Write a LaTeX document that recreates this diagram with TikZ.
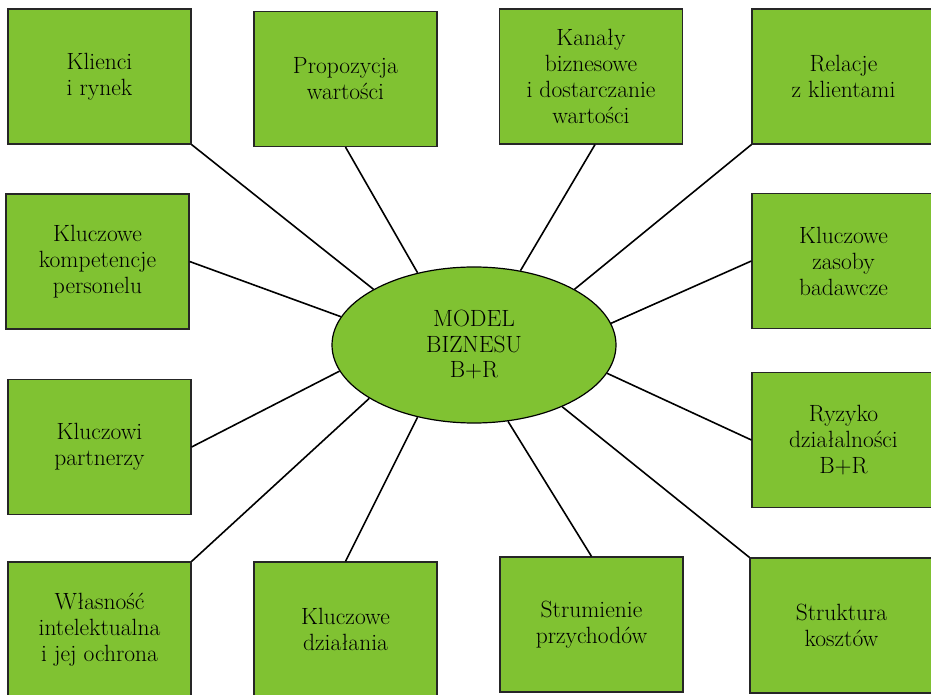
\documentclass[tikz,border=0pt]{standalone}
\usepackage{fontspec}
\usetikzlibrary{shapes.geometric}
\definecolor{boxgreen}{RGB}{128,194,50}
\begin{document}
\begin{tikzpicture}[x=1pt,y=1pt,
  box/.style={draw=black!85, line width=1.2pt, fill=boxgreen,
    minimum width=183pt, minimum height=135pt, align=center,
    font=\rmfamily\fontsize{23.5}{26}\selectfont, inner sep=0pt},
  hub/.style={ellipse, draw=black, line width=1.2pt, fill=boxgreen,
    minimum width=284pt, minimum height=156pt, align=center,
    font=\rmfamily\fontsize{23.5}{25.5}\selectfont, inner sep=0pt},
  link/.style={line width=1.6pt}]
\useasboundingbox (0,0) rectangle (931,694);
\clip (0,0) rectangle (931,694);
\node[hub] (m) at (474,349) {MODEL\\BIZNESU\\B+R};
\node[box] (kl) at (99.5,617.5) {Klienci\\i rynek};
\node[box] (pw) at (345.5,615) {Propozycja\\wartości};
\node[box] (kb) at (591,617.5) {Kanały\\biznesowe\\i dostarczanie\\wartości};
\node[box] (rk) at (843.5,617.5) {Relacje\\z klientami};
\node[box] (kk) at (97.5,432.5) {Kluczowe\\kompetencje\\personelu};
\node[box] (kp) at (99.5,247) {Kluczowi\\partnerzy};
\node[box] (kz) at (843.5,433) {Kluczowe\\zasoby\\badawcze};
\node[box] (rd) at (843.5,254) {Ryzyko\\działalności\\B+R};
\node[box] (wi) at (99.5,64.5) {Własność\\intelektualna\\i jej ochrona};
\node[box] (kd) at (345.5,64.5) {Kluczowe\\działania};
\node[box] (sp) at (591.5,69.5) {Strumienie\\przychodów};
\node[box] (sk) at (841.5,68.5) {Struktura\\kosztów};
\draw[link] (kl.south east) -- (m.151.9);
\draw[link] (pw.south) -- (m.128);
\draw[link] ([xshift=4pt]kb.south) -- (m.58.5);
\draw[link] (rk.south west) -- (m.29.5);
\draw[link] (kk.east) -- (m.168.7);
\draw[link] (kz.west) -- (m.9.4);
\draw[link] (kp.east) -- (m.191.7);
\draw[link] (rd.west) -- (m.348.2);
\draw[link] (wi.north east) -- (m.207.4);
\draw[link] (kd.north) -- (m.232);
\draw[link] (sp.north) -- (m.294.4);
\draw[link] (sk.north west) -- (m.325.1);
\end{tikzpicture}
\end{document}
